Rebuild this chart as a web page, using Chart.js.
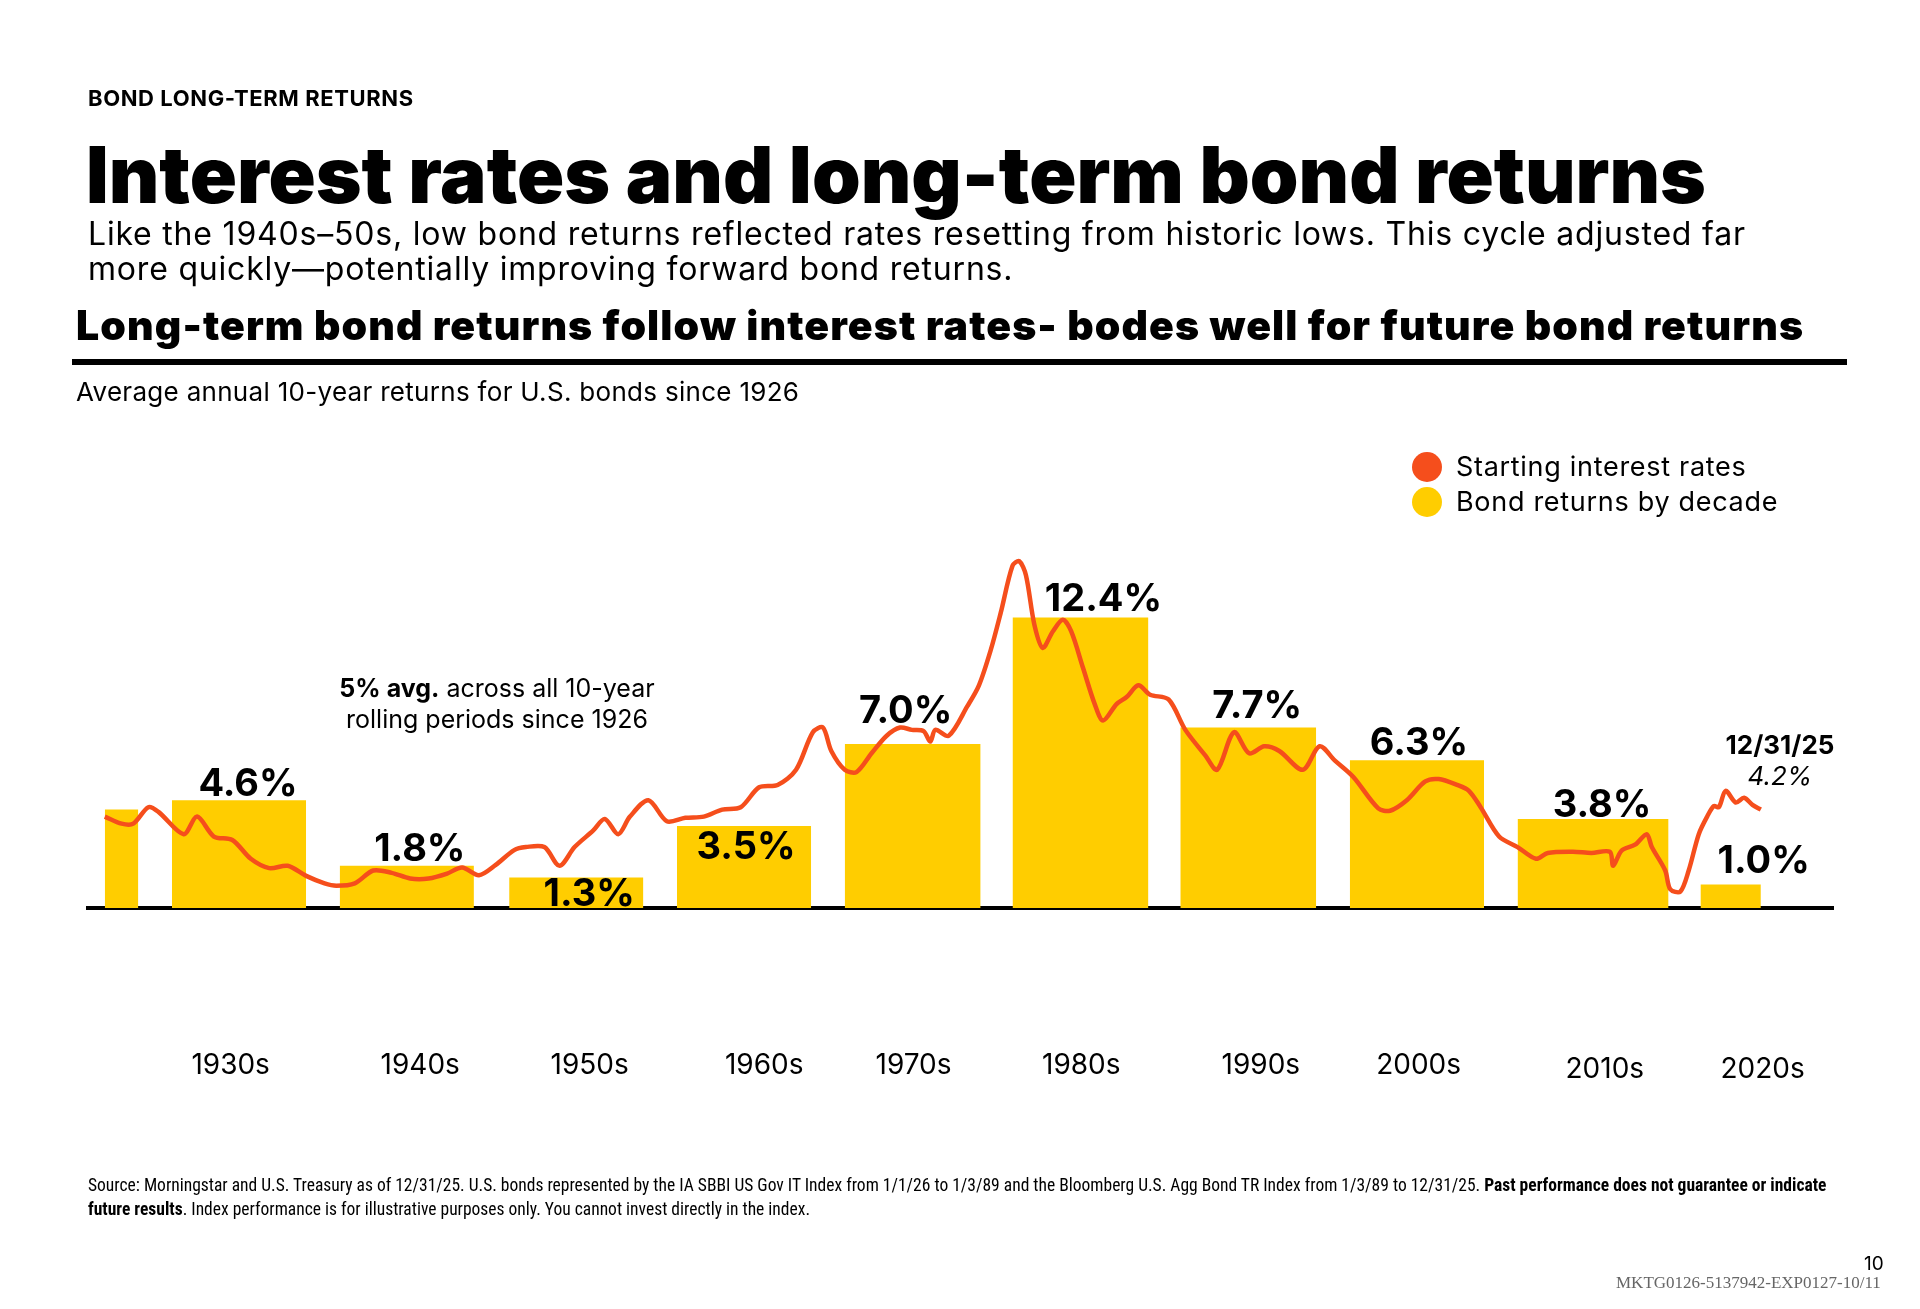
<!DOCTYPE html>
<html lang="en">
<head>
<meta charset="UTF-8">
<title>Interest rates and long-term bond returns</title>
<script src="https://cdn.jsdelivr.net/npm/chart.js"></script>
<style>
  body { margin: 0; width: 1920px; height: 1309px; position: relative; background: #fff; font-family: Inter, "Noto Sans", sans-serif; color: #000; overflow: hidden; }
  .abs { position: absolute; white-space: nowrap; }
  #bondChart { position: absolute; left: 0; top: 0; width: 1920px; height: 1309px; }
  .dot { position: absolute; width: 30px; height: 30px; border-radius: 50%; }
</style>
</head>
<body>
<canvas id="bondChart" width="1920" height="1309"></canvas>

<div class="abs" style="left:88px; top:85px; font-size:22px; font-weight:700; letter-spacing:0.6px;">BOND LONG-TERM RETURNS</div>
<div class="abs" style="left:86px; top:127px; font-size:78px; font-weight:900;">Interest rates and long-term bond returns</div>
<div class="abs" style="left:88px; top:216px; font-size:32px; line-height:35px; letter-spacing:0.8px;">Like the 1940s–50s, low bond returns reflected rates resetting from historic lows. This cycle adjusted far<br>more quickly—potentially improving forward bond returns.</div>
<div class="abs" style="left:76px; top:300px; font-size:41px; font-weight:900; letter-spacing:1.1px;">Long-term bond returns follow interest rates- bodes well for future bond returns</div>
<div class="abs" style="left:72px; top:359px; width:1775px; height:6px; background:#000;"></div>
<div class="abs" style="left:76px; top:376px; font-size:26px; letter-spacing:0.3px;">Average annual 10-year returns for U.S. bonds since 1926</div>

<div class="dot" style="left:1412px; top:452px; background:#F54E1C;"></div>
<div class="dot" style="left:1412px; top:487px; background:#FFCD00;"></div>
<div class="abs" style="left:1456px; top:450px; font-size:27px; letter-spacing:0.7px;">Starting interest rates</div>
<div class="abs" style="left:1456px; top:485px; font-size:27px; letter-spacing:0.7px;">Bond returns by decade</div>

<div class="abs" style="left:497px; top:673px; transform:translateX(-50%); font-size:25px; line-height:31px; text-align:center;"><b>5% avg.</b> across all 10-year<br>rolling periods since 1926</div>
<div class="abs" style="left:1780px; top:729px; transform:translateX(-50%); font-size:26px; line-height:31px; text-align:center;"><b>12/31/25</b><br><i>4.2%</i></div>

<div class="abs" style="left:88px; top:1173px; font-size:17.5px; line-height:24px; font-family:'Liberation Sans Narrow','Roboto Condensed',sans-serif;">Source: Morningstar and U.S. Treasury as of 12/31/25. U.S. bonds represented by the IA SBBI US Gov IT Index from 1/1/26 to 1/3/89 and the Bloomberg U.S. Agg Bond TR Index from 1/3/89 to 12/31/25. <b>Past performance does not guarantee or indicate</b><br><b>future results</b>. Index performance is for illustrative purposes only. You cannot invest directly in the index.</div>
<div class="abs" style="left:1864px; top:1252px; font-size:19px;">10</div>
<div class="abs" style="left:1616px; top:1273px; font-size:17px; color:#666; font-family:'Liberation Serif',serif;">MKTG0126-5137942-EXP0127-10/11</div>

<script>
// bond returns by decade (bars span barStart..barEnd on the year axis)
const decades   = ['1920s', '1930s', '1940s', '1950s', '1960s', '1970s', '1980s', '1990s', '2000s', '2010s', '2020s'];
const barStart  = [1926.0, 1930.0, 1940.0, 1950.1, 1960.1, 1970.1, 1980.1, 1990.1, 2000.2, 2010.2, 2021.1];
const barEnd    = [1928.0, 1938.0, 1948.0, 1958.1, 1968.1, 1978.2, 1988.2, 1998.2, 2008.2, 2019.2, 2024.7];
const returns   = [4.2, 4.6, 1.8, 1.3, 3.5, 7.0, 12.4, 7.7, 6.3, 3.8, 1.0];
const returnLabels = [null, '4.6%', '1.8%', '1.3%', '3.5%', '7.0%', '12.4%', '7.7%', '6.3%', '3.8%', '1.0%'];

// starting interest rates
const rateYears = [1926.0, 1927.0, 1927.7, 1928.6, 1929.2, 1930.7, 1931.5, 1932.5, 1933.6, 1934.7, 1935.8, 1936.9, 1938.0, 1939.1, 1939.8,
  1940.9, 1942.0, 1943.1, 1944.2, 1945.3, 1946.4, 1947.3, 1948.3, 1949.3, 1950.4, 1951.1, 1952.2, 1953.1, 1954.0, 1955.1, 1955.8,
  1956.6, 1957.3, 1958.4, 1959.5, 1960.6, 1961.7, 1962.8, 1963.9, 1965.0, 1966.1, 1967.2, 1968.2, 1968.8, 1969.3, 1970.1, 1970.8,
  1971.7, 1972.6, 1973.4, 1974.1, 1974.8, 1975.2, 1975.5, 1976.3, 1977.4, 1978.1, 1978.8, 1979.4, 1980.1, 1980.5, 1980.9, 1981.4,
  1981.9, 1982.5, 1983.1, 1983.6, 1984.3, 1985.0, 1985.5, 1986.3, 1986.9, 1987.6, 1988.3, 1989.4, 1990.4, 1991.6, 1992.3, 1993.3,
  1994.2, 1995.1, 1996.0, 1997.4, 1998.4, 1999.3, 2000.4, 2001.9, 2002.6, 2003.6, 2004.7, 2005.5, 2006.6, 2007.3, 2008.0, 2009.1,
  2010.2, 2011.3, 2012.0, 2013.5, 2014.6, 2015.7, 2015.9, 2016.4, 2017.2, 2017.9, 2018.2, 2019.0, 2019.3, 2019.9, 2020.4, 2021.0,
  2021.5, 2021.9, 2022.2, 2022.6, 2023.2, 2023.7, 2024.2, 2024.7];
const rates = [3.9, 3.6, 3.6, 4.3, 4.1, 3.15, 3.9, 3.05, 2.9, 2.1, 1.7, 1.8, 1.37, 1.05, 0.95,
  1.05, 1.6, 1.5, 1.26, 1.26, 1.47, 1.73, 1.4, 1.84, 2.47, 2.6, 2.6, 1.8, 2.6, 3.3, 3.8,
  3.15, 3.9, 4.6, 3.7, 3.85, 3.9, 4.2, 4.3, 5.15, 5.25, 5.9, 7.5, 7.7, 6.7, 5.9, 5.8,
  6.6, 7.35, 7.7, 7.6, 7.55, 7.1, 7.6, 7.35, 8.6, 9.5, 11.0, 12.6, 14.6, 14.8, 14.2, 12.1,
  11.1, 11.8, 12.3, 11.8, 10.25, 8.7, 8.0, 8.7, 9.0, 9.5, 9.1, 8.9, 7.6, 6.5, 5.9, 7.5,
  6.6, 6.9, 6.7, 5.9, 6.9, 6.3, 5.6, 4.25, 4.15, 4.6, 5.4, 5.5, 5.25, 5.0, 4.3, 3.05,
  2.6, 2.1, 2.35, 2.4, 2.35, 2.4, 1.8, 2.45, 2.7, 3.15, 2.6, 1.6, 0.8, 0.7, 1.6, 3.15,
  3.9, 4.35, 4.3, 5.0, 4.5, 4.7, 4.4, 4.2];

// x-axis labels and where they sit on the year axis
const tickLabels = ['1930s', '1940s', '1950s', '1960s', '1970s', '1980s', '1990s', '2000s', '2010s', '2020s'];
const tickYears  = [1933.5, 1944.8, 1954.9, 1965.3, 1974.2, 1984.2, 1994.9, 2004.3, 2015.4, 2024.8];

// label placement tweaks (pixels): [dx, dy from bar top to text baseline]
const labelNudge = [[0,0],[9,-4],[13,-5],[13,28],[2,33],[-7,-21],[23,-6],[9,-10],[2,-5],[9,-2],[33,-12]];

const YELLOW = '#FFCD00';
const ORANGE = '#F54E1C';

const datasets = [{
  type: 'line',
  data: rateYears.map((y, i) => ({ x: y, y: rates[i] })),
  borderColor: ORANGE,
  borderWidth: 4.5,
  pointRadius: 0,
  tension: 0.3,
  fill: false
}];
decades.forEach((d, i) => {
  datasets.push({
    type: 'line',
    data: [{ x: barStart[i], y: 0 }, { x: barStart[i], y: returns[i] }, { x: barEnd[i], y: returns[i] }, { x: barEnd[i], y: 0 }],
    borderWidth: 0,
    borderColor: YELLOW,
    backgroundColor: YELLOW,
    pointRadius: 0,
    tension: 0,
    fill: 'origin'
  });
});

// value labels over bars and decade labels well below the axis
const chartText = {
  id: 'chartText',
  afterDatasetsDraw(chart) {
    const { ctx, scales: { x, y } } = chart;
    ctx.save();
    ctx.fillStyle = '#000';
    ctx.textAlign = 'center';
    ctx.textBaseline = 'alphabetic';
    ctx.font = '700 38px Inter, sans-serif';
    returnLabels.forEach((t, i) => {
      if (!t) return;
      const px = x.getPixelForValue((barStart[i] + barEnd[i]) / 2) + labelNudge[i][0];
      const py = y.getPixelForValue(returns[i]) + labelNudge[i][1];
      ctx.fillText(t, px, py);
    });
    ctx.font = '400 28px Inter, sans-serif';
    ctx.textBaseline = 'middle';
    const base = y.getPixelForValue(0);
    tickLabels.forEach((t, i) => {
      const dy = i >= 8 ? 162 : 158;
      ctx.fillText(t, x.getPixelForValue(tickYears[i]), base + dy);
    });
    ctx.restore();
  }
};

new Chart(document.getElementById('bondChart'), {
  type: 'line',
  data: { datasets: datasets },
  plugins: [chartText],
  options: {
    responsive: false,
    devicePixelRatio: 1,
    animation: false,
    layout: { padding: { left: 88, right: 87, top: 533, bottom: 401 } },
    plugins: { legend: { display: false }, tooltip: { enabled: false } },
    scales: {
      x: {
        type: 'linear',
        min: 1925.0,
        max: 2029.0,
        ticks: { display: false },
        grid: { display: false, drawTicks: false },
        border: { display: true, color: '#000', width: 4 }
      },
      y: {
        display: false,
        min: 0,
        max: 16
      }
    }
  }
});
</script>
</body>
</html>
